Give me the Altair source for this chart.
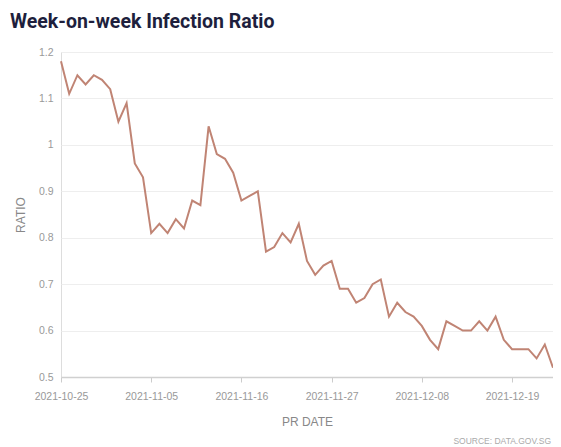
import altair as alt
import pandas as pd

start_date = "2021-10-25"
ratios = [
    1.18, 1.11, 1.15, 1.13, 1.15, 1.14, 1.12, 1.05, 1.09, 0.96,
    0.93, 0.81, 0.83, 0.81, 0.84, 0.82, 0.88, 0.87, 1.04, 0.98,
    0.97, 0.94, 0.88, 0.89, 0.90, 0.77, 0.78, 0.81, 0.79, 0.83,
    0.75, 0.72, 0.74, 0.75, 0.69, 0.69, 0.66, 0.67, 0.70, 0.71,
    0.63, 0.66, 0.64, 0.63, 0.61, 0.58, 0.56, 0.62, 0.61, 0.60,
    0.60, 0.62, 0.60, 0.63, 0.58, 0.56, 0.56, 0.56, 0.54, 0.57,
    0.52,
]
tick_dates = ["2021-10-25", "2021-11-05", "2021-11-16", "2021-11-27", "2021-12-08", "2021-12-19"]
y_ticks = [0.5, 0.6, 0.7, 0.8, 0.9, 1.0, 1.1, 1.2]

dates = pd.date_range(start_date, periods=len(ratios), freq="D")
df = pd.DataFrame({"date": dates.strftime("%Y-%m-%d"), "ratio": ratios})

tick_values = [alt.DateTime(year=int(d[:4]), month=int(d[5:7]), date=int(d[8:])) for d in tick_dates]

AXIS_FONT = "Liberation Sans"

line = alt.Chart(df).mark_line(color="#c08474", strokeWidth=2).encode(
    x=alt.X(
        "date:T",
        title="PR DATE",
        scale=alt.Scale(nice=False),
        axis=alt.Axis(
            values=tick_values,
            format="%Y-%m-%d",
            labelColor="#999999",
            labelFontSize=10.5,
            labelFont=AXIS_FONT,
            labelPadding=9,
            tickColor="#cccccc",
            tickSize=5,
            domainColor="#d0d0d0",
            domainWidth=1.5,
            grid=False,
            titleColor="#888888",
            titleFont=AXIS_FONT,
            titleFontSize=12,
            titleFontWeight="normal",
            titlePadding=15,
            labelFlush=False,
        ),
    ),
    y=alt.Y(
        "ratio:Q",
        title="RATIO",
        scale=alt.Scale(domain=[0.5, 1.2], nice=False, zero=False),
        axis=alt.Axis(
            values=y_ticks,
            labelExpr="format(datum.value, '.2~f')",
            labelColor="#999999",
            labelFontSize=10.5,
            labelFont=AXIS_FONT,
            labelPadding=8,
            ticks=False,
            domain=False,
            gridColor="#eeeeee",
            titleColor="#888888",
            titleFont=AXIS_FONT,
            titleFontSize=12,
            titleFontWeight="normal",
            titlePadding=11,
        ),
    ),
)

source = alt.Chart(pd.DataFrame({"t": ["SOURCE: DATA.GOV.SG"]})).mark_text(
    align="right", baseline="alphabetic", color="#aaaaaa", fontSize=8.5, font=AXIS_FONT
).encode(text="t:N", x=alt.value(490), y=alt.value(392))

chart = alt.layer(line, source).properties(
    width=492,
    height=325,
    autosize=alt.AutoSizeParams(type="none"),
    padding={"left": 53, "top": 44, "right": 0, "bottom": 70},
    title=alt.TitleParams(
        "Week-on-week Infection Ratio",
        anchor="start",
        frame="group",
        font="Roboto",
        fontSize=19.5,
        fontWeight="bold",
        color="#1e1f3d",
        dx=-51,
        dy=-11,
    ),
).configure_view(stroke=None).configure(background="white")

chart.save("out.html", embed_options={"renderer": "svg", "actions": False})
